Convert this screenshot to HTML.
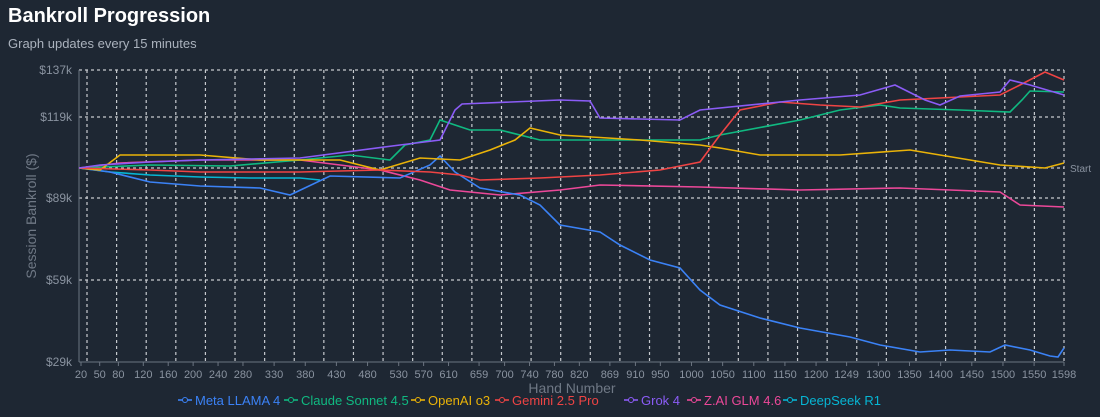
<!DOCTYPE html><html><head><style>
body{margin:0;background:#1e2733;width:1100px;height:417px;overflow:hidden;font-family:"Liberation Sans",sans-serif}
h1{position:absolute;left:8px;top:5px;margin:0;font-size:20px;color:#fff;font-weight:bold}
.sub{position:absolute;left:8px;top:36px;font-size:13px;color:#aab2bd}
</style></head><body>
<h1>Bankroll Progression</h1><div class="sub">Graph updates every 15 minutes</div>
<svg width="1100" height="417" style="position:absolute;left:0;top:0" font-family="Liberation Sans, sans-serif">
<g stroke="#e5e7eb" stroke-dasharray="3,3" stroke-width="1.2" opacity="0.85" id="g"></g>
<g fill="#8a93a0" font-size="12" text-anchor="end">
<text x="72" y="74">$137k</text><text x="72" y="121">$119k</text><text x="72" y="202">$89k</text><text x="72" y="284">$59k</text><text x="72" y="366">$29k</text></g>
<line x1="79" y1="70" x2="79" y2="362" stroke="#6b7480"/><line x1="79" y1="362" x2="1064" y2="362" stroke="#6b7480"/>
<text x="1070" y="172" fill="#8a93a0" font-size="10">Start</text>
<text transform="translate(36,216) rotate(-90)" text-anchor="middle" fill="#6f7885" font-size="14">Session Bankroll ($)</text>
<g fill="#8a93a0" font-size="11" text-anchor="middle" id="xt"></g>
<text x="572" y="393" text-anchor="middle" fill="#6f7885" font-size="14">Hand Number</text>
<g fill="none" stroke-width="1.6">
<polyline stroke="#ec4899" points="79,168 120,163 200,160 300,160 380,170 420,180 450,190 500,195 560,190 600,185 700,187 800,190 900,188 1000,192 1020,205 1064,207"/>
<polyline stroke="#06b6d4" points="79,168 110,172 150,175 200,177 250,178 300,178 320,180"/>
<polyline stroke="#3b82f6" points="79,168 110,172 150,182 200,186 260,188 290,195 330,176 400,178 430,165 440,156 455,172 480,188 520,195 540,205 560,225 600,232 620,245 650,260 680,268 700,290 720,305 760,318 800,328 850,337 880,345 920,352 950,350 990,352 1005,345 1030,350 1050,356 1058,357 1064,348"/>
<polyline stroke="#10b981" points="79,168 150,165 230,166 300,160 350,155 390,160 405,145 430,140 440,120 470,130 500,130 540,140 640,140 700,140 720,135 800,120 840,110 880,105 900,108 960,110 1010,112 1022,100 1030,91 1064,92"/>
<polyline stroke="#eab308" points="79,168 100,170 120,155 200,155 260,160 340,160 380,170 420,158 460,160 490,150 515,140 530,128 560,135 640,140 700,145 720,148 760,155 840,155 910,150 940,155 1000,165 1045,168 1064,163"/>
<polyline stroke="#ef4444" points="79,168 150,170 200,172 300,172 380,170 430,172 460,175 480,180 540,178 600,175 660,170 700,162 720,135 740,110 780,102 820,105 860,107 900,100 960,97 1000,95 1020,85 1045,72 1064,80"/>
<polyline stroke="#8b5cf6" points="79,168 100,165 150,162 200,160 300,158 400,145 440,140 455,110 462,104 560,100 590,101 600,118 680,120 700,110 800,100 860,95 895,85 905,90 925,100 940,105 960,96 1000,92 1010,80 1030,85 1064,95"/>
</g>
<g font-size="13" id="lg"></g>
</svg>
<script>
var ns="http://www.w3.org/2000/svg",g=document.getElementById('g');
function L(a,b,c,d){var l=document.createElementNS(ns,'line');l.setAttribute('x1',a);l.setAttribute('y1',b);l.setAttribute('x2',c);l.setAttribute('y2',d);g.appendChild(l);}
[70,117,198,280].forEach(y=>L(79,y,1064,y));L(79,168,1064,168);
for(var i=0;i<=33;i++){var x=87+i*(1064-87)/33;L(x,70,x,362);}
var t=[20,50,80,120,160,200,240,280,330,380,430,480,530,570,610,659,700,740,780,820,869,910,950,1000,1050,1100,1150,1200,1249,1300,1350,1400,1450,1500,1550,1598],xt=document.getElementById('xt');
t.forEach(v=>{var x=81+(v-20)*(1064-81)/1578;var e=document.createElementNS(ns,'text');e.setAttribute('x',x);e.setAttribute('y',378);e.textContent=v;xt.appendChild(e);
var l=document.createElementNS(ns,'line');l.setAttribute('x1',x);l.setAttribute('x2',x);l.setAttribute('y1',362);l.setAttribute('y2',366);l.setAttribute('stroke','#6b7480');xt.appendChild(l);});
var lg=[["Meta LLAMA 4","#3b82f6",195],["Claude Sonnet 4.5","#10b981",301],["OpenAI o3","#eab308",428],["Gemini 2.5 Pro","#ef4444",512],["Grok 4","#8b5cf6",641],["Z.AI GLM 4.6","#ec4899",704],["DeepSeek R1","#06b6d4",800]],lgE=document.getElementById('lg');
lg.forEach((a,i)=>{var lx=a[2]-17;var l=document.createElementNS(ns,'line');l.setAttribute('x1',lx);l.setAttribute('x2',lx+14);l.setAttribute('y1',400);l.setAttribute('y2',400);l.setAttribute('stroke',a[1]);l.setAttribute('stroke-width',1.6);lgE.appendChild(l);
var c=document.createElementNS(ns,'circle');c.setAttribute('cx',lx+7);c.setAttribute('cy',400);c.setAttribute('r',2.5);c.setAttribute('fill','#1e2733');c.setAttribute('stroke',a[1]);lgE.appendChild(c);
var e=document.createElementNS(ns,'text');e.setAttribute('x',a[2]);e.setAttribute('y',405);e.setAttribute('fill',a[1]);e.textContent=a[0];lgE.appendChild(e);});
</script>
</body></html>
